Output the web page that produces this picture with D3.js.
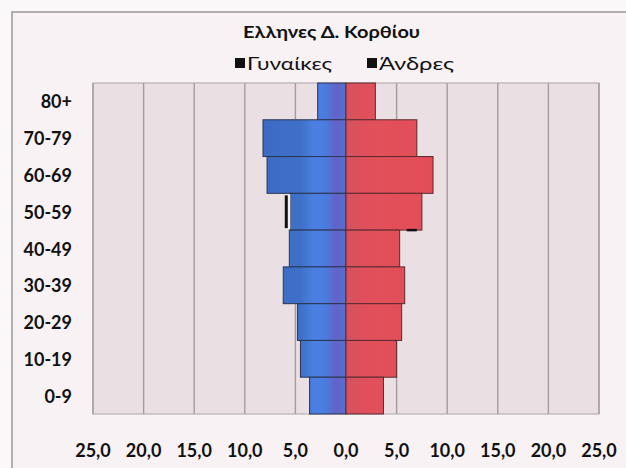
<!DOCTYPE html>
<html><head><meta charset="utf-8">
<script src="https://cdn.jsdelivr.net/npm/d3@7"></script>
<style>
html,body{margin:0;padding:0;background:#fbf8f9;}
svg{display:block;}
text{font-family:Lato,'Open Sans','Noto Sans',sans-serif;fill:#111;}
</style></head>
<body>
<script>
const categories = ["80+","70-79","60-69","50-59","40-49","30-39","20-29","10-19","0-9"];
const women = [2.8, 8.2, 7.8, 5.5, 5.6, 6.2, 4.8, 4.5, 3.6];
const men   = [2.9, 7.0, 8.6, 7.5, 5.3, 5.8, 5.5, 5.0, 3.7];
const tickValues = [-25,-20,-15,-10,-5,0,5,10,15,20,25];
const title = "Ελληνες Δ. Κορθίου";
const seriesNames = ["Γυναίκες","Άνδρες"];

const W = 626, H = 468;
const svg = d3.select("body").append("svg").attr("width", W).attr("height", H);

const x = d3.scaleLinear().domain([-25, 25]).range([93, 599]);
const y = d3.scaleBand().domain(categories).range([83, 414]).padding(0);

const defs = svg.append("defs");
const gb = defs.append("linearGradient").attr("id","gb").attr("gradientUnits","userSpaceOnUse")
  .attr("x1", x(-10)).attr("x2", x(0)).attr("y1",0).attr("y2",0);
gb.append("stop").attr("offset","0").attr("stop-color","#3a68c2");
gb.append("stop").attr("offset","0.55").attr("stop-color","#3f70c8");
gb.append("stop").attr("offset","0.68").attr("stop-color","#4a80e2");
gb.append("stop").attr("offset","0.8").attr("stop-color","#4a7cde");
gb.append("stop").attr("offset","0.9").attr("stop-color","#6462c6");
gb.append("stop").attr("offset","1").attr("stop-color","#5470d2");
const gr = defs.append("linearGradient").attr("id","gr").attr("gradientUnits","userSpaceOnUse")
  .attr("x1", x(0)).attr("x2", x(10)).attr("y1",0).attr("y2",0);
gr.append("stop").attr("offset","0").attr("stop-color","#d8505e");
gr.append("stop").attr("offset","0.3").attr("stop-color","#e2505a");
gr.append("stop").attr("offset","1").attr("stop-color","#e44c56");

// outer chart frame
svg.append("rect").attr("x",12).attr("y",12).attr("width",W).attr("height",H)
  .attr("fill","#f8f2f4").attr("stroke","#9a9698").attr("stroke-width",1.5);

// plot area
svg.append("rect").attr("x", x(-25)).attr("y", y.range()[0])
  .attr("width", x(25)-x(-25)).attr("height", y.range()[1]-y.range()[0])
  .attr("fill","#eadfe3").attr("stroke","#b8b0b4").attr("stroke-width",1.2);

// gridlines
svg.append("g").selectAll("line").data(tickValues).join("line")
  .attr("x1", d=>x(d)).attr("x2", d=>x(d))
  .attr("y1", y.range()[0]).attr("y2", y.range()[1])
  .attr("stroke","#a59ca0").attr("stroke-width",1.4);

// bars
const rows = categories.map((c,i)=>({c, w:women[i], m:men[i]}));
svg.append("g").selectAll("rect").data(rows).join("rect")
  .attr("x", d=>x(-d.w)).attr("y", d=>y(d.c))
  .attr("width", d=>x(0)-x(-d.w)).attr("height", y.bandwidth())
  .attr("fill","url(#gb)").attr("stroke","#2a3550").attr("stroke-width",1);
svg.append("g").selectAll("rect").data(rows).join("rect")
  .attr("x", x(0)).attr("y", d=>y(d.c))
  .attr("width", d=>x(d.m)-x(0)).attr("height", y.bandwidth())
  .attr("fill","url(#gr)").attr("stroke","#5a2a30").attr("stroke-width",1);

// scan marks near 50-59
const b5 = y("50-59");
svg.append("rect").attr("x", x(-5.9)).attr("y", b5+1).attr("width", x(-5.5)-x(-5.9)).attr("height", y.bandwidth()-2).attr("fill","#f4f0f2");
svg.append("line").attr("x1", x(-5.9)).attr("x2", x(-5.9)).attr("y1", b5+2).attr("y2", b5+y.bandwidth()-2)
  .attr("stroke","#111").attr("stroke-width",3);
svg.append("line").attr("x1", x(6.0)).attr("x2", x(7.0)).attr("y1", b5+y.bandwidth()).attr("y2", b5+y.bandwidth())
  .attr("stroke","#111").attr("stroke-width",2.5);

// y labels
svg.append("g").selectAll("text").data(categories).join("text")
  .attr("x", 72).attr("y", d=>y(d)+y.bandwidth()/2)
  .attr("text-anchor","end").attr("dominant-baseline","central")
  .attr("font-size",18).attr("font-weight","bold").text(d=>d);

// x labels
const fmt = v => Math.abs(v).toFixed(1).replace(".", ",");
svg.append("g").selectAll("text").data(tickValues).join("text")
  .attr("x", d=>x(d)).attr("y", 450)
  .attr("text-anchor","middle").attr("dominant-baseline","central")
  .attr("font-size",18).attr("font-weight","bold").text(fmt);

// title
svg.append("text").attr("x", 243).attr("y", 31)
  .attr("dominant-baseline","central").attr("font-size",17).attr("font-weight","bold")
  .attr("textLength",177).attr("lengthAdjust","spacingAndGlyphs").text(title);

// legend
const legX = [235, 367];
const legLen = [85, 75];
const lg = svg.append("g").selectAll("g").data(seriesNames).join("g")
  .attr("transform",(d,i)=>`translate(${legX[i]},63)`);
lg.append("rect").attr("x",0).attr("y",-5).attr("width",10).attr("height",10).attr("fill","#111");
lg.append("text").attr("x",12).attr("y",0).attr("dominant-baseline","central")
  .attr("font-size",18).attr("textLength",(d,i)=>legLen[i]).attr("lengthAdjust","spacingAndGlyphs").text(d=>d);
</script>
</body></html>
